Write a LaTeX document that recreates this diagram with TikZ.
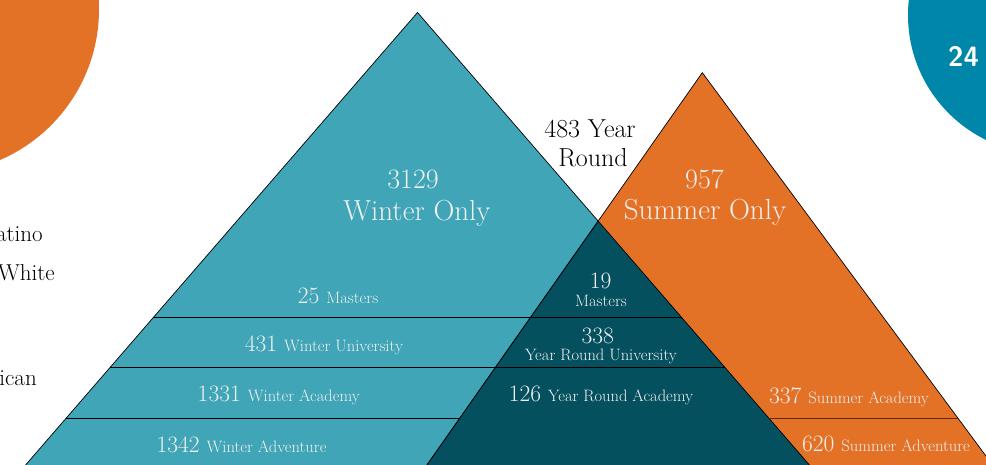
\documentclass[tikz,border=0pt]{standalone}
\definecolor{winter}{RGB}{63,165,183}
\definecolor{yearround}{RGB}{5,80,95}
\definecolor{summer}{RGB}{227,113,38}
\definecolor{circblue}{RGB}{0,134,168}
\definecolor{summerline}{RGB}{90,42,12}
\definecolor{txt}{RGB}{240,240,240}
\newcommand{\numfont}{\fontsize{23.5}{25}\selectfont}
\newcommand{\labfont}{\fontsize{16.5}{18}\selectfont}
\newcommand{\bandtext}[2]{{\numfont #1}\hspace{7pt}{\labfont #2}}
\begin{document}
\begin{tikzpicture}[x=1pt,y=-1pt,
	lbl/.style={text=txt,anchor=base,inner sep=0pt},
	side/.style={draw=black,line width=0.7pt},
	band/.style={draw=black,line width=1pt}]
			\useasboundingbox (0,0) rectangle (986,465);
			\clip (0,0) rectangle (986,465);

			\fill[summer] (-65,9.4) circle (164);
			\fill[circblue] (1047,15) circle (139);
			\node[anchor=base west,inner sep=0pt,text=white,font={\sffamily\bfseries\fontsize{28}{30}\selectfont}] (pct) at (948,67) {24};

			\coordinate (wtop) at (417.5,12.5);
			\coordinate (stop) at (702.3,72.7);
			\coordinate (ytop) at (598.2,221.1);

			\filldraw[winter,side] (wtop) -- (12.6,480) -- (822.4,480) -- cycle;
			\filldraw[summer,side] (stop) -- (416.4,480) -- (1003.7,480) -- cycle;
			\filldraw[yearround,side] (ytop) -- (416.4,480) -- (822.4,480) -- cycle;

			\draw[band] (153.2,317.7) -- (681.8,317.7);
			\draw[band] (110.2,367.3) -- (724.8,367.3);
			\draw[band] (65.9,418.5) -- (459.5,418.5);
			\draw[band,summerline] (768.9,418.3) -- (958,418.3);

			\node[lbl,font=\fontsize{28}{30}\selectfont] (wnum) at (413,188.3) {3129};
			\node[lbl,font=\fontsize{29}{31}\selectfont] (wname) at (417,220.7) {Winter Only};
			\node[lbl,font=\fontsize{28}{30}\selectfont] (snum) at (704.5,188.3) {957};
			\node[lbl,font=\fontsize{29}{31}\selectfont] (sname) at (705,219.3) {Summer Only};
			\node[lbl,text=black,font=\fontsize{26}{28}\selectfont] (yrnum) at (590,137.3) {483 Year};
			\node[lbl,text=black,font=\fontsize{26}{28}\selectfont] (yrname) at (593,166.7) {Round};

			\node[lbl] (wmast) at (338,304) {\bandtext{25}{Masters}};
			\node[lbl] (wuni) at (323.9,351.7) {\bandtext{431}{Winter University}};
			\node[lbl] (wacad) at (278.8,401.7) {\bandtext{1331}{Winter Academy}};
			\node[lbl] (wadv) at (241.5,452.7) {\bandtext{1342}{Winter Adventure}};

			\node[lbl,font=\numfont] (ymastnum) at (600.7,289) {19};
			\node[lbl,font=\labfont] (ymast) at (601,306) {Masters};
			\node[lbl,font=\numfont] (yuninum) at (597.8,344) {338};
			\node[lbl,font=\labfont] (yuni) at (601,360) {Year Round University};
			\node[lbl] (yacad) at (601,401) {\bandtext{126}{Year Round Academy}};

			\node[lbl] (sacad) at (849,403.3) {\bandtext{337}{Summer Academy}};
			\node[lbl] (sadv) at (886,451.7) {\bandtext{620}{Summer Adventure}};

			\node[anchor=base east,inner sep=0pt,font=\fontsize{23}{25}\selectfont] (latino) at (43,241.7) {Latino};
			\node[anchor=base east,inner sep=0pt,font=\fontsize{23}{25}\selectfont] (white) at (55,280) {White};
			\node[anchor=base east,inner sep=0pt,font=\fontsize{23}{25}\selectfont] (amer) at (37,385) {American};
		\end{tikzpicture}
\end{document}
